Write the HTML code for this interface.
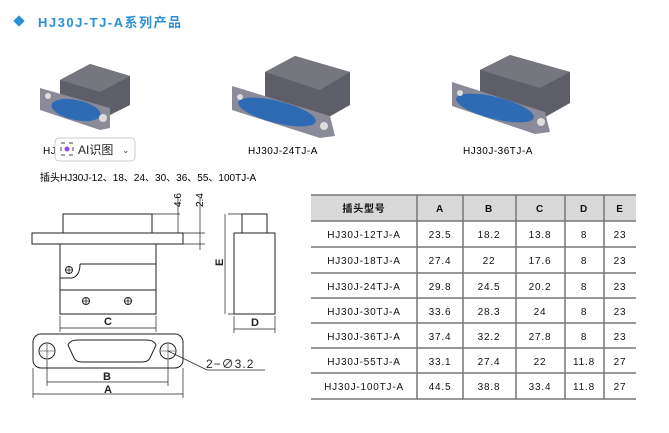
<!DOCTYPE html><html><head><meta charset="utf-8"><style>
body{margin:0;width:669px;height:428px;background:#fff;overflow:hidden;font-family:"Liberation Sans","Noto Sans CJK SC",sans-serif}
</style></head><body>
<svg width="669" height="428" viewBox="0 0 669 428" xmlns="http://www.w3.org/2000/svg" font-family="Liberation Sans, Noto Sans CJK SC, sans-serif">
<rect x="15" y="17" width="8" height="8" fill="#2a8fd6" transform="rotate(45 19 21)"/>
<text x="38" y="27" font-size="13" font-weight="bold" fill="#2a8fd6" letter-spacing="1.5">HJ30J-TJ-A系列产品</text>
<!-- connector 1 -->
<g>
<polygon points="60,80 90,64 130,76 130,105 100,120 60,100" fill="#5e5e68"/>
<polygon points="60,80 90,64 130,76 100,92" fill="#76767f"/>
<polygon points="40,88 110,108 110,128 100,130 40,110" fill="#8a8a98"/>
<ellipse cx="76" cy="110" rx="25" ry="10" fill="#2f6bb5" transform="rotate(12 76 110)"/>
<circle cx="103" cy="118" r="4" fill="#ddd"/><circle cx="48" cy="96" r="3" fill="#ddd"/>
</g>
<!-- connector 2 -->
<g>
<polygon points="265,72 295,56 350,72 350,105 320,122 265,100" fill="#5e5e68"/>
<polygon points="265,72 295,56 350,72 320,90" fill="#76767f"/>
<polygon points="232,86 330,116 335,136 320,138 232,110" fill="#8a8a98"/>
<ellipse cx="277" cy="112" rx="40" ry="11" fill="#2f6bb5" transform="rotate(14 277 112)"/>
<circle cx="324" cy="126" r="4" fill="#ddd"/><circle cx="240" cy="97" r="3" fill="#ddd"/>
</g>
<!-- connector 3 -->
<g>
<polygon points="480,70 510,55 570,72 570,103 540,120 480,98" fill="#5e5e68"/>
<polygon points="480,70 510,55 570,72 540,88" fill="#76767f"/>
<polygon points="452,82 545,112 550,132 535,134 452,106" fill="#8a8a98"/>
<ellipse cx="495" cy="108" rx="40" ry="11" fill="#2f6bb5" transform="rotate(14 495 108)"/>
<circle cx="541" cy="122" r="4" fill="#ddd"/><circle cx="460" cy="93" r="3" fill="#ddd"/>
</g>
<text x="43" y="154" font-size="10" letter-spacing="0.5">HJ</text>
<rect x="55" y="138" width="80" height="23" rx="4" fill="#fff" stroke="#ccc"/>
<rect x="61" y="143" width="12" height="12" fill="none" stroke="#444" stroke-dasharray="4 4"/>
<circle cx="67" cy="149" r="2.5" fill="#8a4fe8"/>
<text x="78" y="154" font-size="12" fill="#222">AI识图</text>
<text x="122" y="153" font-size="9" fill="#444">⌄</text>
<text x="248" y="154" font-size="10" letter-spacing="0.5">HJ30J-24TJ-A</text>
<text x="463" y="154" font-size="10" letter-spacing="0.5">HJ30J-36TJ-A</text>
<text x="40" y="181" font-size="10">插头HJ30J-12、18、24、30、36、55、100TJ-A</text>
<!-- drawing -->
<g fill="none" stroke="#222" stroke-width="1">
<rect x="63" y="214" width="89" height="19" fill="#fff"/>
<rect x="32" y="233" width="151" height="11" fill="#fff"/>
<rect x="60" y="244" width="96" height="70"/>
<path d="M80,264 H156 M60,278 H72 Q80,276 80,264 M60,290 H156"/>
<circle cx="69" cy="270" r="3.5"/><circle cx="86" cy="301" r="3.5"/><circle cx="128" cy="301" r="3.5"/>
<path d="M66,270 H72 M69,267 V273 M83,301 H89 M86,298 V304 M125,301 H131 M128,298 V304" stroke-width="0.8"/>
<path d="M60,316 V332 M156,316 V332 M60,328 H156" stroke-width="0.7"/>
<path d="M152,214 H180 M183,233 H205 M183,244 H205 M178,198 V233 M200,198 V250" stroke-width="0.7"/>
<rect x="33" y="334" width="150" height="34" rx="8"/>
<circle cx="47" cy="351" r="8"/><circle cx="168" cy="351" r="8"/>
<path d="M40,351 H54 M47,344 V358 M161,351 H175 M168,344 V358" stroke-width="0.6"/>
<path d="M68,345 Q70,340 78,340 H146 Q154,340 156,345 L150,358 Q148,362 142,362 H82 Q76,362 74,358 Z"/>
<path d="M168,351 L207,370 H265" stroke-width="0.7"/>
<path d="M47,360 V386 M168,360 V386 M47,382 H168 M33,368 V398 M183,368 V398 M33,394 H183" stroke-width="0.7"/>
<rect x="242" y="214" width="25" height="19"/>
<rect x="234" y="233" width="41" height="81"/>
<path d="M228,214 H242 M228,314 H234 M225,214 V314 M234,316 V333 M275,316 V333 M234,329 H275" stroke-width="0.7"/>
</g>
<g font-size="11" font-weight="bold" fill="#222">
<text x="104" y="325">C</text><text x="251" y="326">D</text>
<text x="103" y="380">B</text><text x="104" y="393">A</text>
<text x="219" y="270" transform="rotate(-90 219 266)">E</text>
</g>
<text x="206" y="368" font-size="12" fill="#222" letter-spacing="1">2−∅3.2</text>
<text x="177" y="211" font-size="10" transform="rotate(-90 177 207)">4.6</text>
<text x="199" y="211" font-size="10" transform="rotate(-90 199 207)">2.4</text>
<!-- table -->
<rect x="311" y="195" width="325" height="26" fill="#d9d9d9"/>
<g stroke="#777" stroke-width="1.5">
<path d="M311,195 H636 M311,221 H636 M311,247 H636 M311,273 H636 M311,298 H636 M311,323 H636 M311,348 H636 M311,373 H636 M311,399 H636"/>
<path d="M417,195 V399 M463,195 V399 M516,195 V399 M565,195 V399 M604,195 V399"/>
</g>
<g font-size="10" fill="#111" text-anchor="middle" letter-spacing="0.8">
<g font-weight="bold"><text x="364" y="212">插头型号</text><text x="440" y="212">A</text><text x="489" y="212">B</text><text x="540" y="212">C</text><text x="584" y="212">D</text><text x="620" y="212">E</text></g>
<g transform="translate(0,238)"><text x="364">HJ30J-12TJ-A</text><text x="440">23.5</text><text x="489">18.2</text><text x="540">13.8</text><text x="584">8</text><text x="620">23</text></g>
<g transform="translate(0,264)"><text x="364">HJ30J-18TJ-A</text><text x="440">27.4</text><text x="489">22</text><text x="540">17.6</text><text x="584">8</text><text x="620">23</text></g>
<g transform="translate(0,290)"><text x="364">HJ30J-24TJ-A</text><text x="440">29.8</text><text x="489">24.5</text><text x="540">20.2</text><text x="584">8</text><text x="620">23</text></g>
<g transform="translate(0,315)"><text x="364">HJ30J-30TJ-A</text><text x="440">33.6</text><text x="489">28.3</text><text x="540">24</text><text x="584">8</text><text x="620">23</text></g>
<g transform="translate(0,340)"><text x="364">HJ30J-36TJ-A</text><text x="440">37.4</text><text x="489">32.2</text><text x="540">27.8</text><text x="584">8</text><text x="620">23</text></g>
<g transform="translate(0,365)"><text x="364">HJ30J-55TJ-A</text><text x="440">33.1</text><text x="489">27.4</text><text x="540">22</text><text x="584">11.8</text><text x="620">27</text></g>
<g transform="translate(0,390)"><text x="364">HJ30J-100TJ-A</text><text x="440">44.5</text><text x="489">38.8</text><text x="540">33.4</text><text x="584">11.8</text><text x="620">27</text></g>
</g>
</svg>
</body></html>
